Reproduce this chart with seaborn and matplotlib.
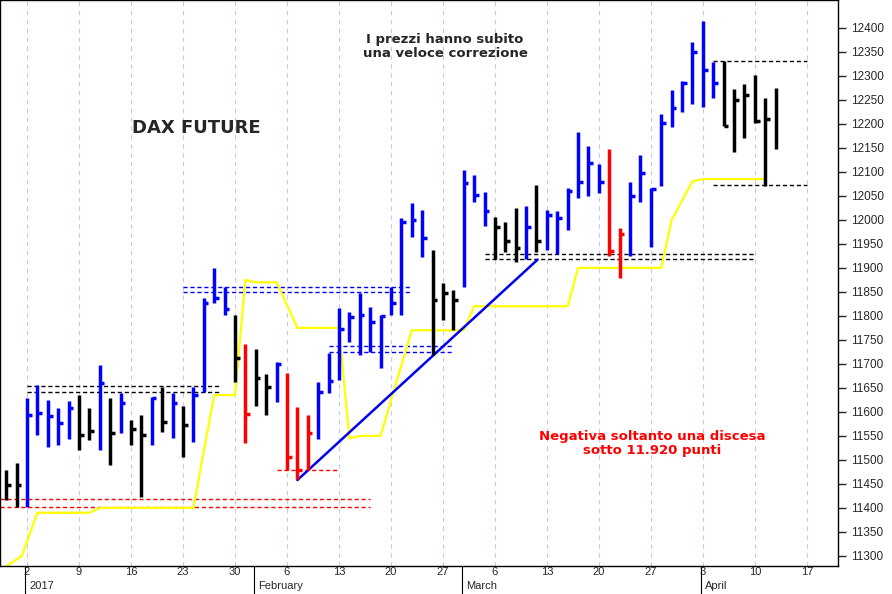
import numpy as np
import matplotlib
matplotlib.use("Agg")
import matplotlib.pyplot as plt
import seaborn as sns

# Trading-day index (0 = 2 Jan 2017), bars from index -2
highs = [11479, 11494, 11629, 11656, 11625, 11608, 11623, 11635, 11608, 11698, 11629, 11640,
         11583, 11594, 11631, 11652, 11640, 11613, 11652, 11837, 11900, 11860, 11802, 11742,
         11731, 11679, 11704, 11681, 11610, 11594, 11662, 11723, 11817, 11808, 11848, 11819,
         11802, 11860, 12004, 12035, 12021, 11937, 11869, 11854, 12104, 12094, 12058, 12006,
         11996, 12025, 12029, 12073, 12021, 12019, 12067, 12183, 12154, 12117, 12148, 11983,
         12079, 12135, 12067, 12221, 12271, 12290, 12371, 12415, 12329, 12331, 12273, 12283,
         12302, 12254, 12275]
lows = [11417, 11402, 11402, 11552, 11527, 11531, 11544, 11521, 11542, 11521, 11490, 11556,
        11531, 11423, 11531, 11558, 11546, 11506, 11537, 11642, 11827, 11802, 11663, 11535,
        11613, 11594, 11621, 11479, 11460, 11479, 11544, 11640, 11667, 11746, 11719, 11725,
        11692, 11802, 11802, 11965, 11923, 11719, 11792, 11771, 11860, 12037, 11987, 11919,
        11933, 11912, 11919, 11933, 11937, 11929, 11979, 12046, 12050, 12056, 11925, 11879,
        11925, 12037, 11944, 12071, 12194, 12225, 12242, 12235, 12254, 12196, 12142, 12171,
        12202, 12071, 12148]
closes = [11448, 11448, 11594, 11598, 11591, 11577, 11608, 11552, 11560, 11660, 11556, 11619,
          11565, 11552, 11629, 11579, 11619, 11573, 11635, 11827, 11837, 11815, 11712, 11596,
          11671, 11652, 11700, 11506, 11479, 11556, 11642, 11665, 11773, 11798, 11802, 11788,
          11800, 11827, 11996, 12000, 11962, 11833, 11848, 11833, 12077, 12052, 12019, 11985,
          11956, 11942, 11985, 11956, 12010, 12004, 12060, 12079, 12119, 12079, 11935, 11971,
          12050, 12098, 12065, 12202, 12233, 12285, 12350, 12312, 12285, 12196, 12250, 12260,
          12206, 12210, np.nan]
colors = (["k", "k"] +
          ["b", "b", "b", "b", "b", "k", "k", "b", "k", "b"] +
          ["k", "k", "b", "k", "b", "k", "b", "b", "b", "b"] +
          ["k", "r", "k", "k", "b", "r", "r", "r", "b", "b"] +
          ["b", "b", "b", "b", "b", "b", "b", "b", "b", "k"] +
          ["k", "k", "b", "b", "b", "k", "k", "k", "b", "k"] +
          ["b", "b", "b", "b", "b", "b", "r", "r", "b", "b"] +
          ["b", "b", "b", "b", "b", "b", "b", "k", "k", "k"] +
          ["k", "k", "k"])
idx = np.arange(-2, -2 + len(highs))

stop_x = [-2.6, -0.5, 1, 6, 7, 16, 18, 20, 21, 22, 24, 26, 30, 31, 32, 34, 37, 42, 43, 52, 53, 61, 62, 64, 65, 71]
stop_y = [11270, 11300, 11390, 11390, 11400, 11400, 11635, 11635, 11875, 11870, 11870, 11775, 11775,
          11545, 11550, 11550, 11770, 11770, 11820, 11820, 11900, 11900, 12000, 12080, 12085, 12085]

day_ticks = [0, 5, 10, 15, 20, 25, 30, 35, 40, 45, 50, 55, 60, 65, 70, 75]
day_labels = ["2", "9", "16", "23", "30", "6", "13", "20", "27", "6", "13", "20", "27", "3", "10", "17"]
months = [(0, "2017"), (22, "February"), (42, "March"), (65, "April")]

sns.set_style("white")
fig = plt.figure(figsize=(8.92, 5.94), dpi=100)
ax = fig.add_axes([0, 28/594, 838/892, 566/594])
xlo, xhi = -2.6, 78
ax.set_xlim(xlo, xhi)
ax.set_ylim(11279, 12458)

for t in day_ticks:
    ax.axvline(t, color="#c8c8e8", ls=(0, (4, 4)), lw=0.8, zorder=0)

def hl(y, x0, x1, c):
    ax.plot([x0, x1], [y, y], color=c, ls=(0, (3, 2)), lw=1)
hl(11654, 0, 18.6, "k"); hl(11642, 0, 18.6, "k")
hl(11419, xlo, 33, "r"); hl(11402, xlo, 33, "r")
hl(11860, 15, 37, "b"); hl(11850, 15, 37, "b")
hl(11737, 29, 41, "b"); hl(11725, 29, 41, "b")
hl(11479, 24, 30, "r")
hl(11929, 44, 70, "k"); hl(11919, 44, 70, "k")
hl(12331, 66, 75, "k"); hl(12073, 66, 75, "k")

sns.lineplot(x=stop_x, y=stop_y, color="#ffff00", lw=1.6, ax=ax, zorder=2)
ax.plot([26, 49.1], [11458, 11917], color="#0000ee", lw=1.8, zorder=3)

cmap = {"k": "black", "b": "#0000ff", "r": "#ff0000"}
for i, h, l, c, col in zip(idx, highs, lows, closes, colors):
    cc = cmap[col]
    ax.vlines(i, l, h, color=cc, lw=2.5, zorder=4)
    if not np.isnan(c):
        ax.hlines(c, i, i + 0.45, color=cc, lw=2.5, zorder=4)

ax.yaxis.tick_right()
ax.set_yticks(np.arange(11300, 12401, 50))
ax.set_yticklabels([str(v) for v in range(11300, 12401, 50)], fontsize=8.5, family="Liberation Sans")
ax.tick_params(axis="y", direction="out", length=6, width=1, right=True)
ax.set_xticks(day_ticks)
ax.set_xticklabels(day_labels, fontsize=8, family="Liberation Sans")
ax.tick_params(axis="x", direction="out", length=0, pad=1)
ax.grid(False)
for s in ax.spines.values():
    s.set_color("black"); s.set_linewidth(1)

trans = ax.get_xaxis_transform()
for m, lab in months:
    ax.annotate(lab, xy=(m, 0), xycoords=trans, xytext=(2, -15), textcoords="offset pixels",
                fontsize=8, family="Liberation Sans", ha="left", va="top", annotation_clip=False)
    ax.plot([m - 0.2, m - 0.2], [0, -0.05], transform=trans, color="black", lw=0.8, clip_on=False)

ax.text(16.3, 12191, "DAX FUTURE", fontsize=13, fontweight="bold", ha="center", va="center", family="DejaVu Sans")
ax.text(40.2, 12362, "I prezzi hanno subito\nuna veloce correzione", fontsize=9.5, fontweight="bold",
        ha="center", va="center", family="DejaVu Sans", linespacing=1.1)
ax.text(60.1, 11535, "Negativa soltanto una discesa\nsotto 11.920 punti", fontsize=9.5, fontweight="bold",
        color="#ff0000", ha="center", va="center", family="DejaVu Sans", linespacing=1.1)

fig.savefig("out.png", dpi=100)
